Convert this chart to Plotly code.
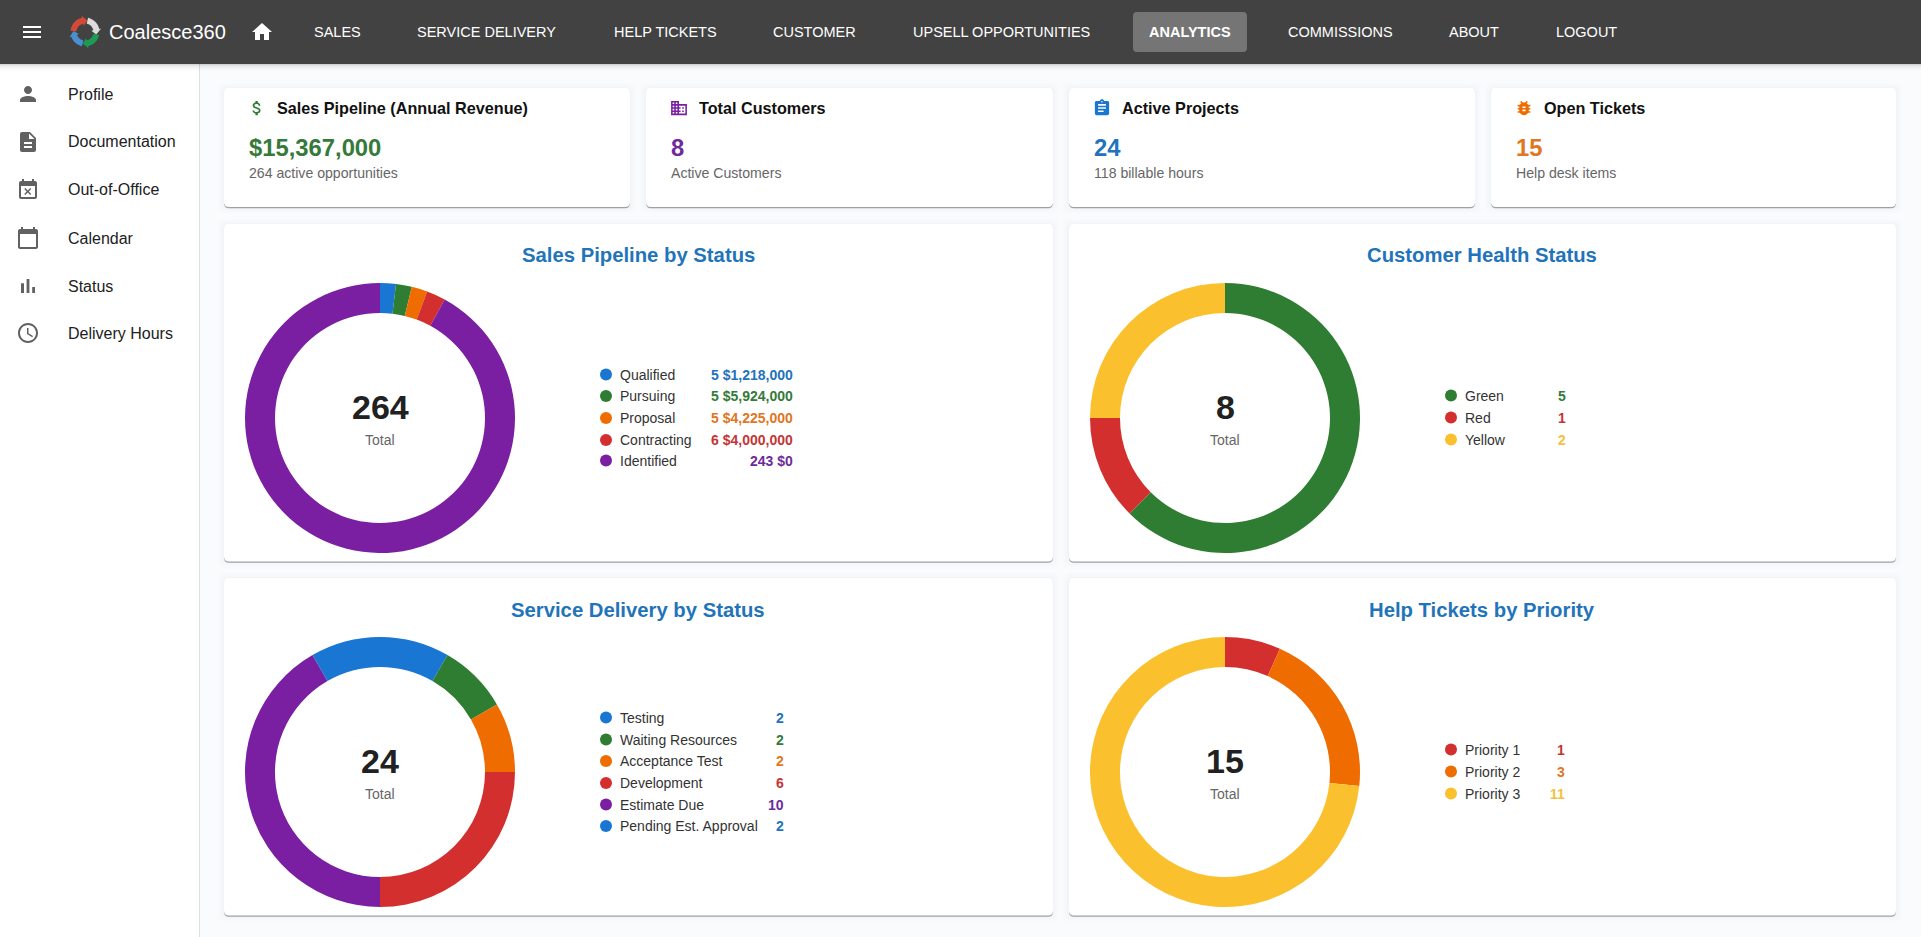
import math
import urllib.parse
import plotly.graph_objects as go

W, H = 1921, 937

BLUE, GREEN, ORANGE, RED, PURPLE, YELLOW = "#1976d2", "#2e7d32", "#ef6c00", "#d32f2f", "#7b1fa2", "#fbc02d"
# the text in the reference renders a little softer than the marks
TEXT_OF = {BLUE: "#2272bd", GREEN: "#357a3a", ORANGE: "#e0761f", RED: "#c43636", PURPLE: "#6f2a9c", YELLOW: "#f5c040"}
TITLE_BLUE = "#1f74ba"

# --- data ---
sales_labels = ["Qualified", "Pursuing", "Proposal", "Contracting", "Identified"]
sales_counts = [5, 5, 5, 6, 243]
sales_amounts = ["$1,218,000", "$5,924,000", "$4,225,000", "$4,000,000", "$0"]
sales_colors = [BLUE, GREEN, ORANGE, RED, PURPLE]

health_labels = ["Green", "Red", "Yellow"]
health_counts = [5, 1, 2]
health_colors = [GREEN, RED, YELLOW]

delivery_labels = ["Testing", "Waiting Resources", "Acceptance Test", "Development", "Estimate Due", "Pending Est. Approval"]
delivery_counts = [2, 2, 2, 6, 10, 2]
delivery_colors = [BLUE, GREEN, ORANGE, RED, PURPLE, BLUE]

ticket_labels = ["Priority 1", "Priority 2", "Priority 3"]
ticket_counts = [1, 3, 11]
ticket_colors = [RED, ORANGE, YELLOW]

nav_labels = ["SALES", "SERVICE DELIVERY", "HELP TICKETS", "CUSTOMER", "UPSELL OPPORTUNITIES", "ANALYTICS", "COMMISSIONS", "ABOUT", "LOGOUT"]
nav_x = [313, 416, 613, 772, 912, 1148, 1287, 1448, 1555]
side_labels = ["Profile", "Documentation", "Out-of-Office", "Calendar", "Status", "Delivery Hours"]
side_y = [94, 142, 190, 238, 286, 333]

kpi_titles = ["Sales Pipeline (Annual Revenue)", "Total Customers", "Active Projects", "Open Tickets"]
kpi_values = ["$15,367,000", "8", "24", "15"]
kpi_subs = ["264 active opportunities", "Active Customers", "118 billable hours", "Help desk items"]
kpi_colors = [GREEN, PURPLE, BLUE, ORANGE]

# --- icons (24x24 material paths) ---
ICONS = {
    "menu": "M3 18h18v-2H3v2zm0-5h18v-2H3v2zm0-7v2h18V6H3z",
    "home": "M10 20v-6h4v6h5v-8h3L12 3 2 12h3v8z",
    "person": "M12 12c2.21 0 4-1.79 4-4s-1.79-4-4-4-4 1.79-4 4 1.79 4 4 4zm0 2c-2.67 0-8 1.34-8 4v2h16v-2c0-2.66-5.33-4-8-4z",
    "doc": "M14 2H6c-1.1 0-1.99.9-1.99 2L4 20c0 1.1.89 2 1.99 2H18c1.1 0 2-.9 2-2V8l-6-6zm2 16H8v-2h8v2zm0-4H8v-2h8v2zm-3-5V3.5L18.5 9H13z",
    "busy": "M9.31 17l2.44-2.44L14.19 17l1.06-1.06-2.44-2.44 2.44-2.44L14.19 10l-2.44 2.44L9.31 10l-1.06 1.06 2.44 2.44-2.44 2.44L9.31 17zM19 3h-1V1h-2v2H8V1H6v2H5c-1.11 0-1.99.9-1.99 2L3 19c0 1.1.89 2 2 2h14c1.1 0 2-.9 2-2V5c0-1.1-.9-2-2-2zm0 16H5V8h14v11z",
    "cal": "M20 3h-1V1h-2v2H7V1H5v2H4c-1.1 0-2 .9-2 2v16c0 1.1.9 2 2 2h16c1.1 0 2-.9 2-2V5c0-1.1-.9-2-2-2zm0 18H4V8h16v13z",
    "bars": "M5 9.2h3V19H5zM10.6 5h2.8v14h-2.8zm5.6 8H19v6h-2.8z",
    "clock": "M11.99 2C6.47 2 2 6.48 2 12s4.47 10 9.99 10C17.52 22 22 17.52 22 12S17.52 2 11.99 2zM12 20c-4.42 0-8-3.58-8-8s3.58-8 8-8 8 3.58 8 8-3.58 8-8 8zm.5-13H11v6l5.25 3.15.75-1.23-4.5-2.67z",
    "money": "M11.8 10.9c-2.27-.59-3-1.2-3-2.15 0-1.09 1.01-1.85 2.7-1.85 1.78 0 2.44.85 2.5 2.1h2.21c-.07-1.72-1.12-3.3-3.21-3.81V3h-3v2.16c-1.94.42-3.5 1.68-3.5 3.61 0 2.31 1.91 3.46 4.7 4.13 2.5.6 3 1.48 3 2.41 0 .69-.49 1.79-2.7 1.79-2.06 0-2.87-.92-2.98-2.1h-2.2c.12 2.19 1.76 3.42 3.68 3.83V21h3v-2.15c1.95-.37 3.5-1.5 3.5-3.55 0-2.84-2.43-3.81-4.7-4.4z",
    "domain": "M12 7V3H2v18h20V7H12zM6 19H4v-2h2v2zm0-4H4v-2h2v2zm0-4H4V9h2v2zm0-4H4V5h2v2zm4 12H8v-2h2v2zm0-4H8v-2h2v2zm0-4H8V9h2v2zm0-4H8V5h2v2zm10 12h-8v-2h2v-2h-2v-2h2v-2h-2V9h8v10zm-2-8h-2v2h2v-2zm0 4h-2v2h2v-2z",
    "clip": "M19 3h-4.18C14.4 1.84 13.3 1 12 1c-1.3 0-2.4.84-2.82 2H5c-1.1 0-2 .9-2 2v14c0 1.1.9 2 2 2h14c1.1 0 2-.9 2-2V5c0-1.1-.9-2-2-2zm-7 0c.55 0 1 .45 1 1s-.45 1-1 1-1-.45-1-1 .45-1 1-1zm2 14H7v-2h7v2zm3-4H7v-2h10v2zm0-4H7V7h10v2z",
    "bug": "M20 8h-2.81c-.45-.78-1.07-1.45-1.82-1.96L17 4.41 15.59 3l-2.17 2.17C12.96 5.06 12.49 5 12 5c-.49 0-.96.06-1.41.17L8.41 3 7 4.41l1.62 1.63C7.88 6.55 7.26 7.22 6.81 8H4v2h2.09c-.05.33-.09.66-.09 1v1H4v2h2v1c0 .34.04.67.09 1H4v2h2.81c1.04 1.79 2.97 3 5.19 3s4.15-1.21 5.19-3H20v-2h-2.09c.05-.33.09-.66.09-1v-1h2v-2h-2v-1c0-.34-.04-.67-.09-1H20V8zm-6 8h-4v-2h4v2zm0-4h-4v-2h4v2z",
}

FONT = "Liberation Sans, Arial, sans-serif"
shapes, annotations, images = [], [], []


def px(x):
    return x / W


def py(y):
    return 1 - y / H


def rect(x0, y0, x1, y1, color):
    shapes.append(dict(type="rect", xref="paper", yref="paper", x0=px(x0), x1=px(x1), y0=py(y0), y1=py(y1),
                       fillcolor=color, line_width=0, layer="below"))


def rrect(x0, y0, x1, y1, r, color):
    def p(x, y):
        return f"{px(x):.6f},{py(y):.6f}"
    path = (f"M{p(x0 + r, y0)} L{p(x1 - r, y0)} Q{p(x1, y0)} {p(x1, y0 + r)} L{p(x1, y1 - r)} Q{p(x1, y1)} {p(x1 - r, y1)} "
            f"L{p(x0 + r, y1)} Q{p(x0, y1)} {p(x0, y1 - r)} L{p(x0, y0 + r)} Q{p(x0, y0)} {p(x0 + r, y0)} Z")
    shapes.append(dict(type="path", xref="paper", yref="paper", path=path, fillcolor=color, line_width=0, layer="below"))


def card(x0, y0, x1, y1):
    for grow, alpha in [(6, 0.006), (4, 0.008), (2, 0.012)]:
        rrect(x0 - grow, y0 - grow + 1, x1 + grow, y1 + grow, 6, f"rgba(30,60,90,{alpha})")
    rrect(x0, y0 + 1, x1, y1 + 1.2, 5, "rgba(0,0,0,0.34)")
    rrect(x0, y0, x1, y1, 5, "#ffffff")


def text(x, y, s, size, color, bold=False, anchor="left"):
    annotations.append(dict(xref="paper", yref="paper", x=px(x), y=py(y), text=f"<b>{s}</b>" if bold else s,
                            showarrow=False, xanchor=anchor, yanchor="middle", align=anchor, borderpad=0,
                            font=dict(family=FONT, size=size, color=color)))


def icon(name, cx, cy, size, color):
    svg = (f'<svg xmlns="http://www.w3.org/2000/svg" width="96" height="96" viewBox="0 0 24 24">'
           f'<path fill="{color}" d="{ICONS[name]}"/></svg>')
    images.append(dict(source="data:image/svg+xml;charset=utf-8," + urllib.parse.quote(svg), xref="paper", yref="paper",
                       x=px(cx), y=py(cy), sizex=size / W, sizey=size / H, xanchor="center", yanchor="middle",
                       sizing="contain", layer="above"))


def circle(cx, cy, r, color):
    shapes.append(dict(type="circle", xref="paper", yref="paper", x0=px(cx - r), x1=px(cx + r), y0=py(cy - r), y1=py(cy + r),
                       fillcolor=color, line_width=0, layer="above"))


def logo_arrow(cx, cy, a0, a1, color):
    def pt(r, a):
        t = math.radians(a)
        return f"{px(cx + r * math.cos(t)):.6f},{py(cy + r * math.sin(t)):.6f}"
    head = a1 - 24
    steps = range(11)
    outer = [pt(14.5, a0 + (head - a0) * k / 10) for k in steps]
    inner = [pt(8.5, head - (head - a0) * k / 10) for k in steps]
    pts = outer + [pt(16.5, head), pt(11.5, a1), pt(6.5, head)] + inner
    shapes.append(dict(type="path", xref="paper", yref="paper", path="M" + " L".join(pts) + " Z",
                       fillcolor=color, line_width=0, layer="above"))


# --- page chrome ---
rect(0, 0, W, H, "#f9fbfc")
rect(0, 64, 199.5, H, "#ffffff")
rect(199, 64, 200, H, "#dedede")
for i, a in enumerate([0.16, 0.10, 0.07, 0.05, 0.03, 0.02, 0.01]):
    rect(0, 64 + i, W, 65 + i, f"rgba(0,0,0,{a})")
rect(0, 0, W, 64, "#424242")
rrect(1133, 12, 1247, 52, 4, "#757575")

# header
icon("menu", 32, 32, 24, "#ffffff")
for col, a0, a1 in [("#d24a35", 185, 282), ("#dcdcdc", 282, 12), ("#1f9a55", 12, 102), ("#4a8fd0", 102, 185)]:
    end = a1 + 360 if a1 < a0 else a1
    logo_arrow(85, 32, a0, end, col)
text(108, 32, "Coalesce360", 20, "#ffffff")
icon("home", 262, 32, 24, "#ffffff")
for lab, x in zip(nav_labels, nav_x):
    text(x, 32, lab, 14.5, "#ffffff", bold=(lab == "ANALYTICS"))

# sidebar
for lab, y, ic in zip(side_labels, side_y, ["person", "doc", "busy", "cal", "bars", "clock"]):
    icon(ic, 28, y, 24, "#616161")
    text(67, y, lab, 16, "#212121")

# KPI cards
kpi_box = [(224, 630), (646, 1053), (1069, 1475), (1491, 1896)]
kpi_icons = ["money", "domain", "clip", "bug"]
for (x0, x1), t, v, s, c, ic in zip(kpi_box, kpi_titles, kpi_values, kpi_subs, kpi_colors, kpi_icons):
    card(x0, 88, x1, 207)
    icon(ic, x0 + 33, 108, 19, c)
    text(x0 + 52, 108, t, 16.2, "#111111", bold=True)
    text(x0 + 24, 147, v, 23.8, TEXT_OF[c], bold=True)
    text(x0 + 24, 173, s, 14.1, "#666666")

# donut cards
fig = go.Figure()
panels = [
    ("Sales Pipeline by Status", 224, 1053, 224, 561.5, 380, 418, sales_labels, sales_counts, sales_colors, 794,
     [374.5, 396, 418, 440, 460.5], sales_amounts),
    ("Customer Health Status", 1069, 1896, 224, 561.5, 1225, 418, health_labels, health_counts, health_colors, 1567,
     [395.5, 417.5, 439.5], None),
    ("Service Delivery by Status", 224, 1053, 578, 915.5, 380, 772, delivery_labels, delivery_counts, delivery_colors, 785,
     [717.5, 739.5, 761, 783, 804.5, 826], None),
    ("Help Tickets by Priority", 1069, 1896, 578, 915.5, 1225, 772, ticket_labels, ticket_counts, ticket_colors, 1566,
     [749.5, 771.5, 793.5], None),
]
R = 135
for title, x0, x1, y0, y1, cx, cy, labs, vals, cols, right, ys, amounts in panels:
    card(x0, y0, x1, y1)
    text((x0 + x1) / 2 - 0.5, y0 + 31.5, title, 20.3, TITLE_BLUE, bold=True, anchor="center")
    fig.add_trace(go.Pie(labels=labs, values=vals, hole=105 / 135, sort=False, direction="clockwise", rotation=0,
                         textinfo="none", showlegend=False, marker=dict(colors=cols, line=dict(width=0)),
                         domain=dict(x=[px(cx - R), px(cx + R)], y=[py(cy + R), py(cy - R)]), name=title))
    text(cx, cy - 11, str(sum(vals)), 34, "#212121", bold=True, anchor="center")
    text(cx, cy + 21.5, "Total", 14, "#666666", anchor="center")
    dot_x = cx + 226
    for i, (lab, v, c, y) in enumerate(zip(labs, vals, cols, ys)):
        circle(dot_x, y, 6, c)
        text(dot_x + 13, y, lab, 14, "#333333")
        s = f"{v} {amounts[i]}" if amounts else str(v)
        text(right, y, s, 14, TEXT_OF[c], bold=True, anchor="right")

fig.update_layout(width=W, height=H, margin=dict(l=0, r=0, t=0, b=0), paper_bgcolor="#ffffff", plot_bgcolor="#ffffff",
                  shapes=shapes, annotations=annotations, images=images, showlegend=False, font=dict(family=FONT))
fig.write_html("out.html", config=dict(displayModeBar=False),
               post_script="document.body.style.margin='0';document.body.style.overflow='hidden';")
